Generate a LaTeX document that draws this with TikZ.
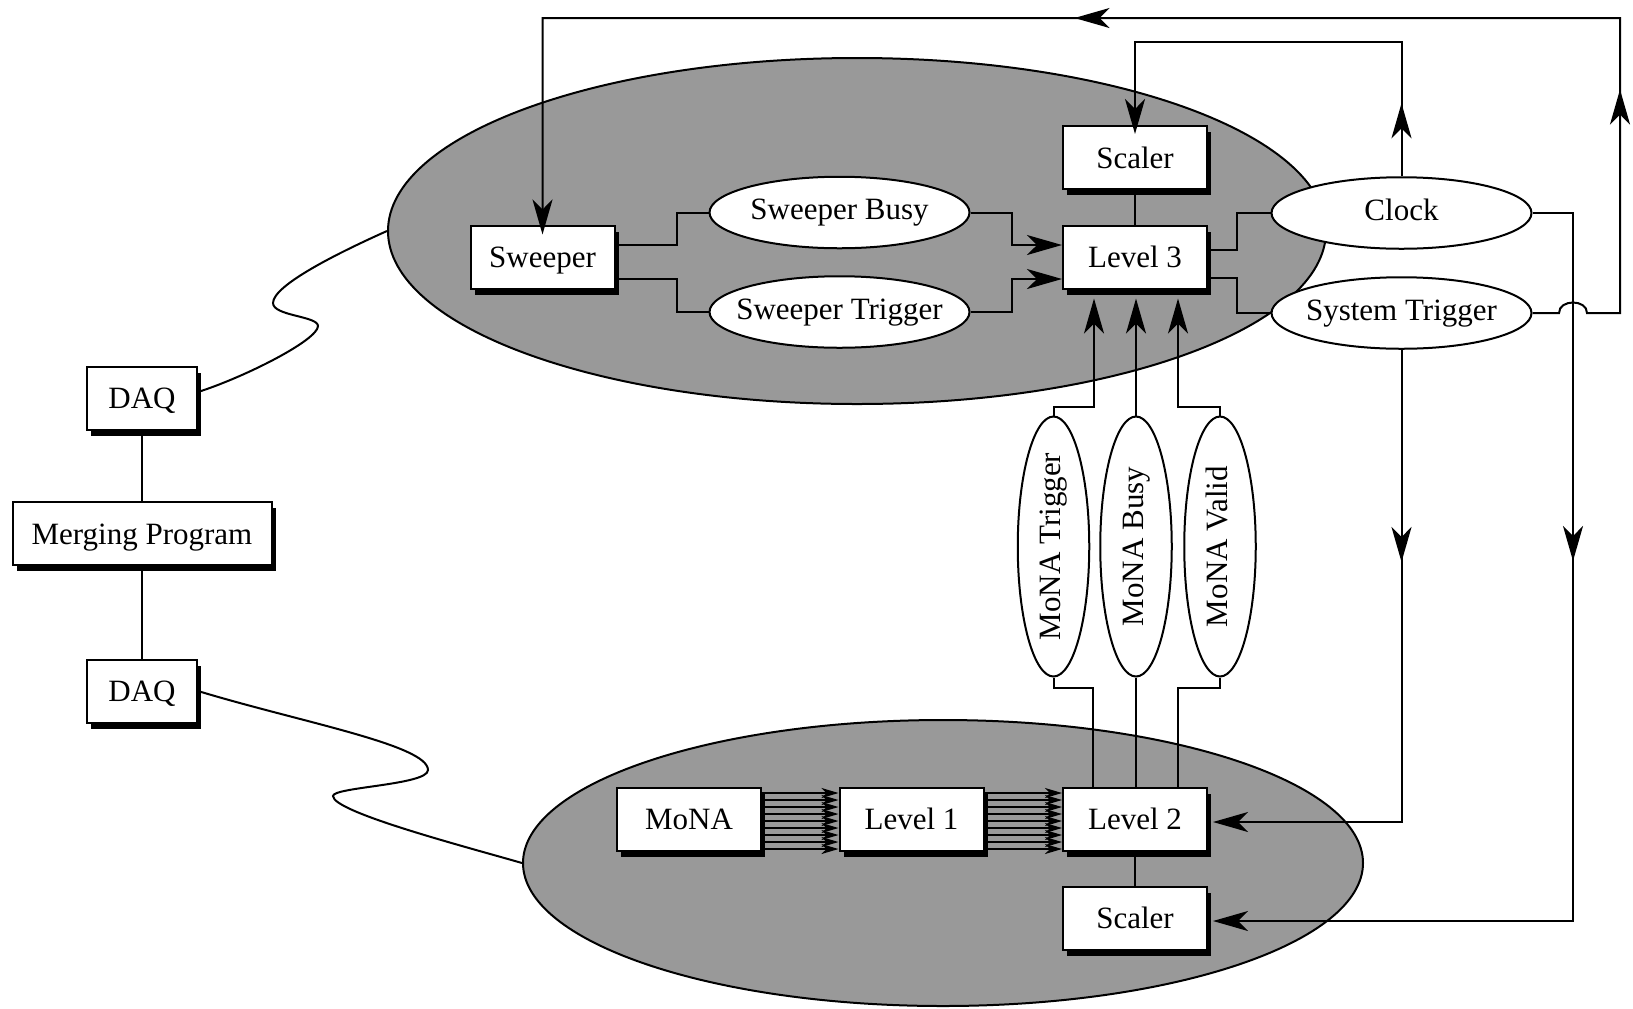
\documentclass[tikz,border=0pt]{standalone}
\usepackage{fontspec}
\setmainfont{Liberation Serif}
\usetikzlibrary{arrows.meta,shapes.geometric,shadows,calc,decorations.markings}
\definecolor{bggray}{gray}{0.6}
\begin{document}
\begin{tikzpicture}[x=0.5pt,y=-0.5pt,
  every node/.style={font=\fontsize{15.5}{18}\selectfont},
  box/.style={draw, fill=white, line width=1pt, inner sep=0pt, minimum width=72pt, minimum height=31.5pt,
    text height=13.5pt, text depth=3pt,
    drop shadow={shadow xshift=2pt, shadow yshift=-3pt, fill=black, opacity=1}},
  oval/.style={ellipse, draw, fill=white, line width=1pt, inner xsep=-8pt, inner ysep=0pt,
    text height=11pt, text depth=4pt,
    minimum width=130pt, minimum height=35.75pt},
  big/.style={ellipse, draw, fill=bggray, line width=1pt, inner sep=0pt},
  wire/.style={line width=1pt},
  arr/.style={wire, -{Stealth[length=17.5pt, width=10pt, inset=5pt]}},
  bus/.style={line width=0.8pt, -{Stealth[length=8.5pt, width=5pt, inset=2.5pt]}},
  midarr/.style={postaction={decorate, decoration={markings,
    mark=at position #1 with {\arrow{Stealth[length=17.5pt, width=10pt, inset=5pt]}}}}},
]
\useasboundingbox (0,0) rectangle (1633,1008);

% background ellipses
\node[big, minimum width=469pt, minimum height=173pt] (e1) at (857,231) {};
\node[big, minimum width=420pt, minimum height=143pt] (e2) at (943,863) {};

% boxes
\node[box] (sw) at (542.5,257) {Sweeper};
\node[box] (sc3) at (1135,157.5) {Scaler};
\node[box] (l3) at (1135,257) {Level 3};
\node[box] (mona) at (689,819) {MoNA};
\node[box] (l1) at (911.5,819) {Level 1};
\node[box] (l2) at (1135,819) {Level 2};
\node[box] (sc2) at (1135,918) {Scaler};
\node[box, minimum width=55pt] (daqA) at (142,398) {DAQ};
\node[box, minimum width=129.5pt] (merge) at (142,533.5) {Merging Program};
\node[box, minimum width=55pt] (daqB) at (142,691) {DAQ};

% ovals
\node[oval] (sb) at (839.5,212.5) {Sweeper Busy};
\node[oval] (st) at (839.5,312) {Sweeper Trigger};
\node[oval] (clk) at (1401.5,213) {Clock};
\node[oval] (syst) at (1401.5,313) {System Trigger};
\node[oval, rotate=90] (mt) at (1053.5,546.5) {MoNA Trigger};
\node[oval, rotate=90] (mb) at (1136,546.5) {MoNA Busy};
\node[oval, rotate=90] (mv) at (1220,546.5) {MoNA Valid};

% free corners
\coordinate (tc) at (1135,42);
\coordinate (tr) at (1620,18);
\coordinate (tl) at (542.5,18);
\coordinate (cr) at (1573,213);
\coordinate (hopA) at (1559,313);
\coordinate (hopB) at (1587,313);

% DAQ / merging
\draw[wire] (daqA.south) -- (merge.north);
\draw[wire] (merge.south) -- (daqB.north);
\draw[wire] ([yshift=3pt]daqA.east) .. controls (245,377) and (318,340) .. (318,326)
  .. controls (318,316) and (273,316) .. (273,303)
  .. controls (273,285) and (340,252) .. (e1.west);
\draw[wire] (daqB.east) .. controls (300,722) and (428,745) .. (428,770)
  .. controls (428,785) and (333,787) .. (333,796)
  .. controls (333,812) and (463,846) .. (e2.west);

% sweeper signals
\draw[wire] ([yshift=6pt]sw.east) -- ++(61,0) |- (sb.west);
\draw[arr] (sb.east) -- ++(41,0) |- ([yshift=6pt]l3.west);
\draw[wire] ([yshift=-11pt]sw.east) -- ++(61,0) |- (st.west);
\draw[arr] (st.east) -- ++(41,0) |- ([yshift=-11pt]l3.west);

% level 3 to clock / system trigger
\draw[wire] ([yshift=3.5pt]l3.east) -- ++(29,0) |- (clk.west);
\draw[wire] ([yshift=-10.5pt]l3.east) -- ++(29,0) |- (syst.west);
\draw[wire] (sc3.south) -- (l3.north);
\draw[wire] (l2.south) -- (sc2.north);

% clock to top scaler
\draw[arr, midarr=36.5pt] (clk.north) -- (clk.north |- tc) -| ($(sc3.north)+(0,9)$);

% system trigger to sweeper (with hop)
\draw[arr, midarr=-682.75pt, midarr=-374.25pt] (syst.east) -- (hopA)
  .. controls (1559,299) and (1587,299) .. (hopB) -- (hopB -| tr) -- (tr) -- (tl) -- ($(sw.north)+(0,10)$);

% clock to bottom scaler
\draw[arr, midarr=-360pt] (clk.east) -- (cr) |- ($(sc2.east)+(5,3)$);

% system trigger to level 2
\draw[arr, midarr=-224.25pt] (syst.south) |- ($(l2.east)+(5,3)$);

% MoNA signals
\draw[arr] (mt.east) -- ++(0,-9) -| ($(l3.south)+(-41,9)$);
\draw[arr] (mb.east) -- ($(l3.south)+(1,9)$);
\draw[arr] (mv.east) -- ++(0,-9) -| ($(l3.south)+(43,9)$);
\draw[wire] (mt.west) -- ++(0,10) -| ($(l2.north)+(-42,0)$);
\draw[wire] (mb.west) -- (mb.west |- l2.north);
\draw[wire] (mv.west) -- ++(0,10) -| ($(l2.north)+(43,0)$);

% buses
\foreach \d in {-26,-19,...,30}{
  \coordinate (p) at ($(mona.east)+(0,\d)$);
  \draw[bus] (p) -- (p -| l1.west);
  \coordinate (q) at ($(l1.east)+(0,\d)$);
  \draw[bus] (q) -- (q -| l2.west);
}
\end{tikzpicture}
\end{document}
